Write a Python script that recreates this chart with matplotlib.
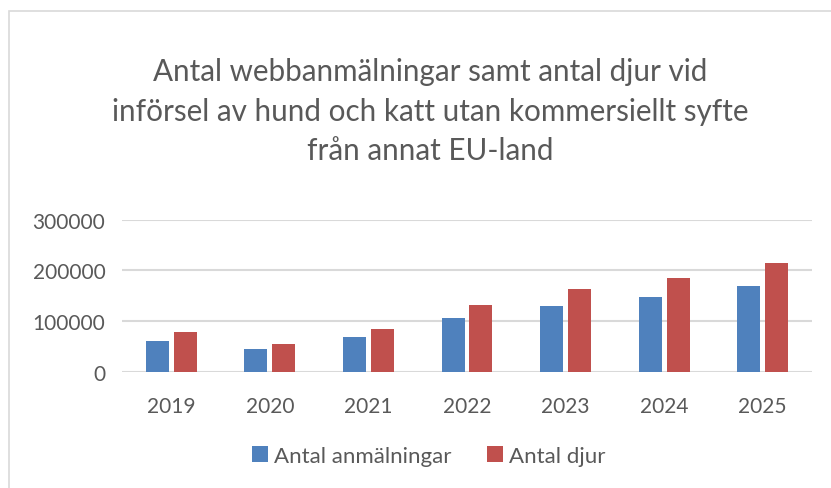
import matplotlib.pyplot as plt
import numpy as np
from matplotlib.patches import Rectangle

years = ["2019", "2020", "2021", "2022", "2023", "2024", "2025"]
anmalningar = [61000, 45000, 69000, 106000, 130000, 148000, 169000]
djur = [79000, 55000, 85000, 132000, 163000, 185000, 214000]
yticks = [0, 100000, 200000, 300000]

TEXT = "#595959"
BLUE = "#4f81bd"
RED = "#c0504d"

plt.rcParams["font.family"] = ["Lato", "DejaVu Sans"]

fig = plt.figure(figsize=(8.31, 4.89), dpi=100)
fig.patches.append(Rectangle((9 / 831, -0.1), 1.2, 1 - 12 / 489 + 0.1,
                             transform=fig.transFigure, fill=False,
                             edgecolor="#d9d9d9", linewidth=1.2))

ax = fig.add_axes([122 / 831, 1 - 373 / 489, 690 / 831, (373 - 220.7) / 489])

x = np.arange(len(years))
w = 0.233
gap = 0.05
ax.bar(x - (w + gap) / 2, anmalningar, w, color=BLUE, label="Antal anmälningar", zorder=3)
ax.bar(x + (w + gap) / 2, djur, w, color=RED, label="Antal djur", zorder=3)

ax.set_xlim(-0.5, len(years) - 0.5)
ax.set_ylim(0, 300000)
ax.set_yticks(yticks)
ax.set_yticklabels([str(v) for v in yticks])
ax.set_xticks(x)
ax.set_xticklabels(years)
ax.grid(axis="y", color="#d9d9d9", linewidth=1.5, zorder=0)
for s in ax.spines.values():
    s.set_visible(False)
ax.tick_params(axis="both", length=0, labelsize=15, labelcolor=TEXT)
ax.tick_params(axis="y", pad=12)
ax.tick_params(axis="x", pad=17)

fig.text(430 / 831, 1 - 112 / 489,
         "Antal webbanmälningar samt antal djur vid\n"
         "införsel av hund och katt utan kommersiellt syfte\n"
         "från annat EU-land",
         ha="center", va="center", fontsize=21.3, color=TEXT, linespacing=1.5)

leg = fig.legend(loc="center", bbox_to_anchor=(429 / 831, 1 - 457 / 489), ncol=2,
                 frameon=False, fontsize=16, handlelength=0.7, handleheight=0.7,
                 handletextpad=0.3, columnspacing=1.6)
for t in leg.get_texts():
    t.set_color(TEXT)

fig.savefig("out.png", dpi=100)
